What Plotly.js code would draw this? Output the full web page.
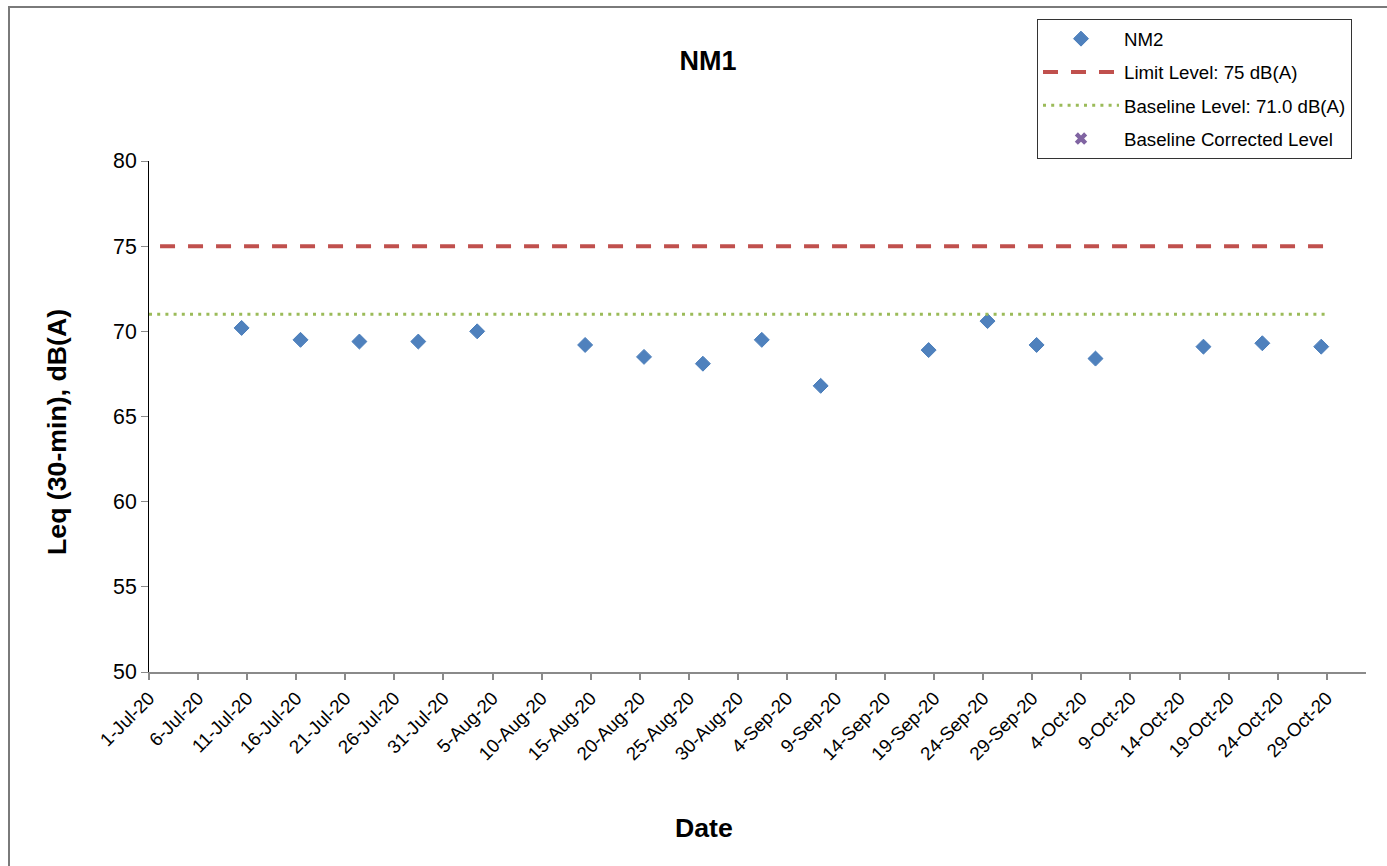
<!DOCTYPE html>
<html>
<head>
<meta charset="utf-8">
<script src="https://cdn.plot.ly/plotly-3.0.1.min.js"></script>
<style>
  html, body { margin: 0; padding: 0; background: #ffffff; overflow: hidden; }
  #chart { position: absolute; left: 0; top: 0; width: 1387px; height: 866px; }
  #frame { position: absolute; left: 8px; top: 6px; width: 1420px; height: 900px;
           border: 2px solid #7a7a7a; pointer-events: none; z-index: 5; }
</style>
</head>
<body>
<div id="chart"></div>
<div id="frame"></div>
<script>
// ---- data ----
const measureDates = [
  '2020-07-10 10:30', '2020-07-16 10:30', '2020-07-22 10:30', '2020-07-28 10:30',
  '2020-08-03 10:30', '2020-08-14 10:30', '2020-08-20 10:30', '2020-08-26 10:30',
  '2020-09-01 10:30', '2020-09-07 10:30', '2020-09-18 10:30', '2020-09-24 10:30',
  '2020-09-29 10:30', '2020-10-05 10:30', '2020-10-16 10:30', '2020-10-22 10:30',
  '2020-10-28 10:30'
];
const nm2Values = [
  70.2, 69.5, 69.4, 69.4, 70.0, 69.2, 68.5, 68.1,
  69.5, 66.8, 68.9, 70.6, 69.2, 68.4, 69.1, 69.3, 69.1
];
const limitDates = ['2020-07-02 03:00', '2020-10-29 15:00'];
const limitValues = [75, 75];
const baselineDates = ['2020-07-01', '2020-10-29'];
const baselineValues = [71.0, 71.0];
const correctedDates = [null];
const correctedValues = [null];

const xRange = ['2020-07-01', '2020-11-02'];
const yRange = [50, 80];
const seriesNames = ['NM2', 'Limit Level: 75 dB(A)', 'Baseline Level: 71.0 dB(A)', 'Baseline Corrected Level'];
const chartTitle = 'NM1';
const xTitle = 'Date';
const yTitle = 'Leq (30-min), dB(A)';

const FONT = 'Liberation Sans, Arial, sans-serif';

const traces = [
  {
    type: 'scatter', mode: 'markers', name: seriesNames[0], legendgroup: 'g1',
    x: measureDates, y: nm2Values,
    marker: { symbol: 'diamond', size: 11.5, color: '#4F81BD', line: { color: '#4A7EBB', width: 1 } },
    cliponaxis: false
  },
  {
    type: 'scatter', mode: 'lines', name: seriesNames[1], legendgroup: 'g2',
    x: limitDates, y: limitValues,
    line: { color: '#C0504D', width: 4, dash: '15px,13px' }
  },
  {
    type: 'scatter', mode: 'lines', name: seriesNames[2], legendgroup: 'g3',
    x: baselineDates, y: baselineValues,
    line: { color: '#9BBB59', width: 3, dash: '3px,5.2px' }
  },
  {
    type: 'scatter', mode: 'markers', name: seriesNames[3], legendgroup: 'g4',
    x: correctedDates, y: correctedValues,
    marker: { symbol: 'x', size: 11, color: '#8064A2' }
  }
];

const layout = {
  width: 1387, height: 866,
  margin: { l: 149, r: 21, t: 161, b: 194, pad: 0, autoexpand: false },
  paper_bgcolor: '#ffffff', plot_bgcolor: '#ffffff',
  font: { family: FONT, color: '#000000' },
  showlegend: true,
  title: {
    text: chartTitle, xref: 'container', yref: 'container',
    x: 708 / 1387, y: 1 - 61 / 866, xanchor: 'center', yanchor: 'middle',
    font: { family: FONT, size: 27, weight: 'bold', color: '#000000' }
  },
  xaxis: {
    type: 'date', range: xRange, automargin: false,
    tick0: '2020-07-01', dtick: 5 * 86400000, tickformat: '%-d-%b-%y',
    tickangle: -45, tickfont: { family: FONT, size: 18.7, color: '#000000' },
    ticks: 'outside', ticklen: 6, tickwidth: 2, tickcolor: '#8a8a8a',
    showline: true, linecolor: '#8a8a8a', linewidth: 2,
    showgrid: false, zeroline: false, fixedrange: true
  },
  yaxis: {
    range: yRange, dtick: 5, tick0: 50, automargin: false,
    tickfont: { family: FONT, size: 21.3, color: '#000000' },
    ticks: 'outside', ticklen: 7, tickwidth: 1, tickcolor: '#8a8a8a',
    showline: true, linecolor: '#000000', linewidth: 1,
    showgrid: false, zeroline: false, fixedrange: true
  },
  legend: {
    xref: 'container', yref: 'container',
    x: 1037 / 1387, y: 1 - 19 / 866, xanchor: 'left', yanchor: 'top',
    bgcolor: '#ffffff', bordercolor: '#333333', borderwidth: 1,
    font: { family: FONT, size: 18.7, color: '#000000' },
    itemwidth: 76, traceorder: 'grouped', tracegroupgap: 6
  },
  annotations: [
    {
      text: xTitle, xref: 'paper', yref: 'paper',
      x: (704 - 149) / 1217, y: (672 - 828) / 511, xanchor: 'center', yanchor: 'middle',
      showarrow: false, font: { family: FONT, size: 26.7, weight: 'bold', color: '#000000' }
    },
    {
      text: yTitle, xref: 'paper', yref: 'paper', textangle: -90,
      x: (57 - 149) / 1217, y: (672 - 432) / 511, xanchor: 'center', yanchor: 'middle',
      showarrow: false, font: { family: FONT, size: 26.7, weight: 'bold', color: '#000000' }
    }
  ]
};

Plotly.newPlot('chart', traces, layout, { displayModeBar: false, staticPlot: true });
</script>
</body>
</html>
